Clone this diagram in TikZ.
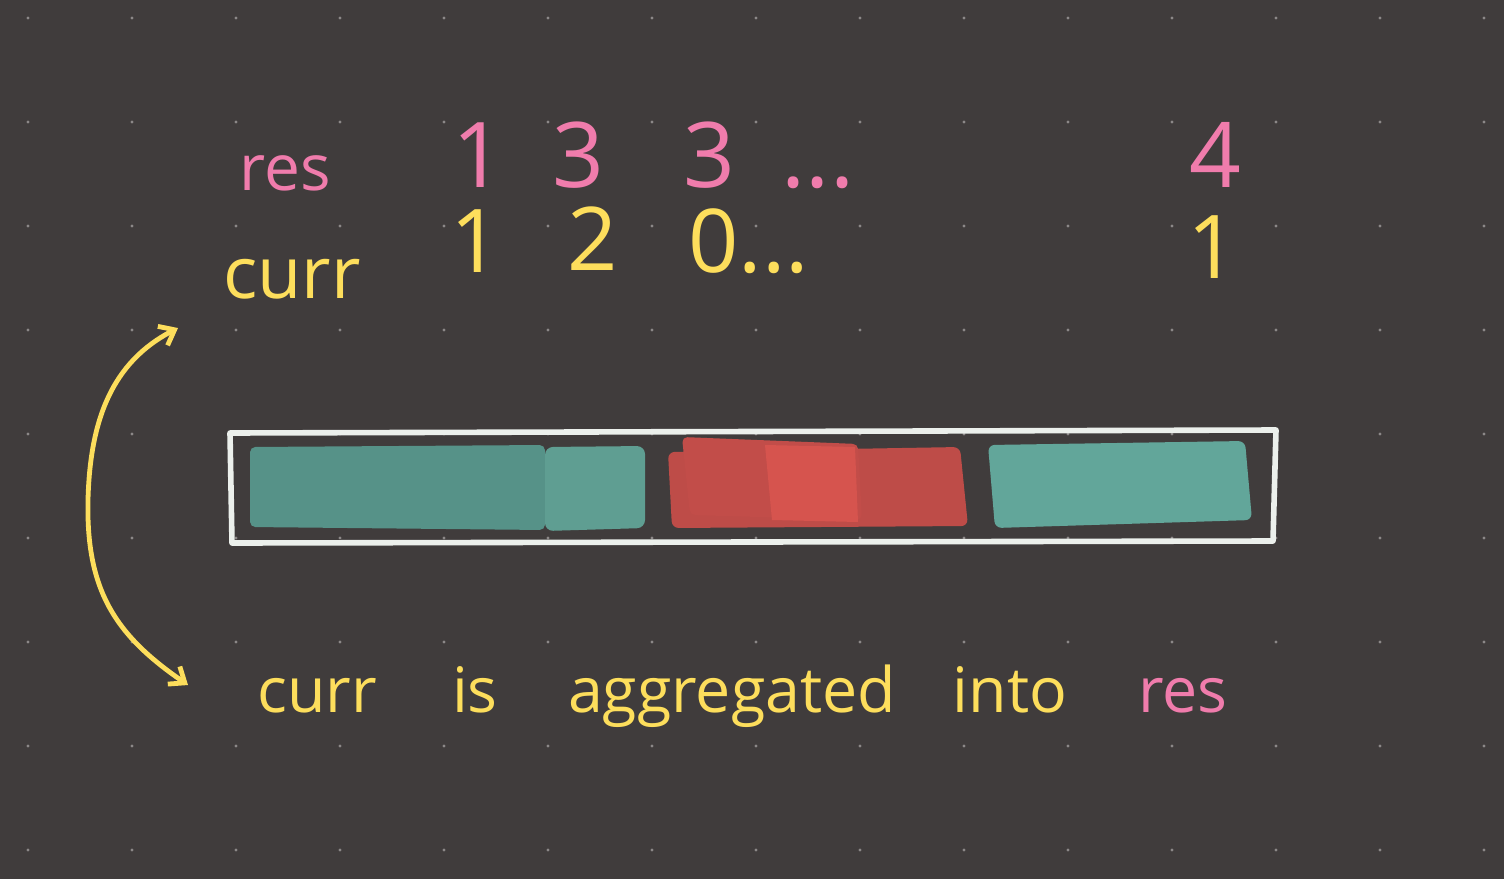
\documentclass[tikz,border=0pt]{standalone}
\usepackage{fontspec}
\setmainfont{Open Sans}
\usetikzlibrary{arrows.meta, positioning}
\definecolor{board}{RGB}{64,60,60}
\definecolor{gridpt}{RGB}{140,136,136}
\definecolor{respink}{RGB}{240,124,172}
\definecolor{curryel}{RGB}{253,222,92}
\definecolor{tealbar}{RGB}{98,166,154}
\definecolor{tealdark}{RGB}{86,146,136}
\definecolor{redbar}{RGB}{190,76,72}
\definecolor{redlite}{RGB}{214,84,78}
\definecolor{chalk}{RGB}{236,240,236}

\begin{document}
\begin{tikzpicture}[x=0.75pt,y=-0.75pt,
    reslbl/.style={text=respink,font=\fontsize{48}{48}\selectfont,inner sep=0pt},
    currlbl/.style={text=curryel,font=\fontsize{54}{54}\selectfont,inner sep=0pt},
    resnum/.style={text=respink,font=\fontsize{68}{68}\selectfont,inner sep=0pt},
    currnum/.style={text=curryel,font=\fontsize{66}{66}\selectfont,inner sep=0pt},
    note/.style={text=curryel,font=\fontsize{47}{47}\selectfont,inner sep=0pt,anchor=base}]
			\fill[board] (0,0) rectangle (1504,879);
			\foreach \gx in {28,132,...,1484}
				\foreach \gy in {18,122,...,850}
					\fill[gridpt] (\gx,\gy) circle (1.6);
			% the two rows
			\node[reslbl,anchor=base] (reslab) at (285,190) {res};
			\node[resnum,anchor=base] (res1) at (478,187) {1};
			\node[resnum,anchor=base] (res2) at (578,187) {3};
			\node[resnum,anchor=base] (res3) at (709,187) {3};
			\node[resnum,anchor=base] (resdots) at (818,187) {...};
			\node[resnum,anchor=base] (resn) at (1215,187) {4};
			\node[currlbl,anchor=base] (currlab) at (292,298) {curr};
			\node[currnum,anchor=base] (curr1) at (476,272) {1};
			\node[currnum,anchor=base] (curr2) at (593,270) {2};
			\node[currnum,anchor=base west] (curr3) at (688,272) {0...};
			\node[currnum,anchor=base] (currn) at (1213,278) {1};
			% the bar
			\fill[tealdark,rounded corners=4] (250,447) -- (545,445) -- (545,530) -- (250,527) -- cycle;
			\fill[tealbar!92!board,rounded corners=6] (545,447) -- (645,446) -- (645,528) -- (545,531) -- cycle;
			\fill[redbar,rounded corners=5] (668,452) -- (960,447) -- (968,526) -- (672,528) -- cycle;
			\fill[redbar!85!redlite,rounded corners=4] (682,437) -- (858,444) -- (862,520) -- (690,515) -- cycle;
			\fill[redlite] (765,445) -- (855,447) -- (858,522) -- (772,520) -- cycle;
			\fill[tealbar,rounded corners=5] (988,445) -- (1245,441) -- (1252,520) -- (995,528) -- cycle;
			\draw[chalk,line width=4.2pt,line join=round] (230,433) -- (1276,430) -- (1273,541) -- (232,543) -- cycle;
			% bottom note
			\node[note] (note1) at (317,712) {curr};
			\node[note] (note2) at (475,712) {is};
			\node[note] (note3) at (732,712) {aggregated};
			\node[note] (note4) at (1010,712) {into};
			\node[note,text=respink] (note5) at (1183,712) {res};
			\coordinate (arrtop) at (178,328);
			\coordinate (arrbot) at (188,685);
			\draw[curryel,line width=3.6pt,{Straight Barb[length=10pt,width=16pt]}-{Straight Barb[length=10pt,width=16pt]}]
				(arrtop) .. controls (112,362) and (90,420) .. (88,500)
				.. controls (86,590) and (115,635) .. (arrbot);
		\end{tikzpicture}
\end{document}
